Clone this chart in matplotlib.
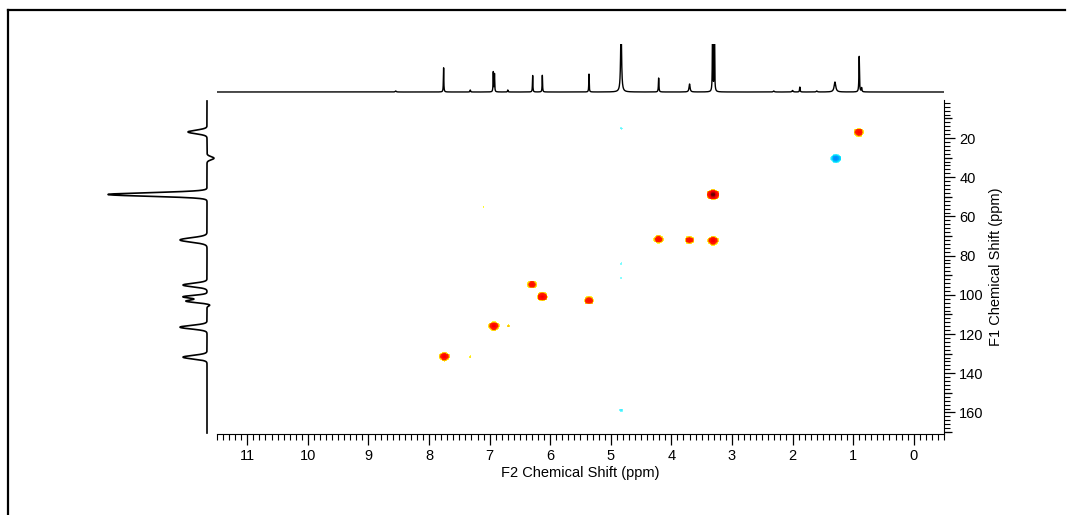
"""HSQC-style 2D NMR map with 1H projection on top and 13C projection on the left."""
import numpy as np
import matplotlib
matplotlib.use("Agg")
import matplotlib.pyplot as plt
from matplotlib.colors import LinearSegmentedColormap
from matplotlib.lines import Line2D
from matplotlib.ticker import MultipleLocator, FixedLocator, NullFormatter

plt.rcParams["font.family"] = ["Liberation Sans Narrow", "Liberation Sans", "DejaVu Sans"]
plt.rcParams["font.size"] = 10.5

# --- cross peaks: F2 (1H ppm), F1 (13C ppm), relative amplitude (neg = blue)
PK_F2 = [0.90, 1.28, 3.31, 4.21, 3.70, 3.31, 6.30, 6.13, 5.36, 6.93, 6.69,
         7.75, 7.32, 7.10, 4.83, 4.83, 4.83, 4.83, 6.30, 5.36]
PK_F1 = [16.9, 30.3, 48.8, 71.6, 72.0, 72.3, 94.8, 101.0, 103.0, 116.0, 116.0,
         131.6, 131.8, 55.0, 15.0, 84.0, 91.5, 159.0, 96.8, 104.8]
PK_AMP = [1.1, -1.4, 4.5, 1.0, 0.9, 1.6, 1.0, 1.5, 1.0, 1.5, 0.22,
          1.4, 0.16, 0.14, -0.16, -0.13, -0.12, -0.2, -0.2, -0.18]

# --- 1H projection (top): shift, height, half width
H_PPM = [8.55, 7.76, 7.32, 6.94, 6.92, 6.70, 6.29, 6.13, 5.36, 4.83, 4.21,
         3.70, 3.32, 3.29, 2.31, 2.00, 1.88, 1.60, 1.30, 0.90, 0.86]
H_HT = [1, 25, 2, 20, 18, 2, 17, 17, 18, 70, 14,
        8, 80, 80, 1, 1.5, 5, 1, 10, 36, 4]
H_W = [0.01, 0.004, 0.005, 0.004, 0.004, 0.005, 0.004, 0.004, 0.004, 0.009, 0.005,
       0.01, 0.004, 0.004, 0.01, 0.01, 0.005, 0.01, 0.016, 0.005, 0.006]

# --- 13C projection (left): shift, height (neg = points right), sigma
C_PPM = [16.9, 30.3, 48.8, 72.0, 95.0, 101.0, 103.2, 105.2, 116.5, 131.8]
C_HT = [19, -7, 99, 27, 24, 24, 21, -3, 27, 24]
C_W = [0.9, 0.8, 0.9, 1.1, 0.9, 0.7, 0.7, 0.5, 0.9, 0.9]

XLIM = (11.5, -0.5)
YLIM = (171.0, 0.6)


def lorentz(grid, pos, hts, ws):
    out = np.zeros_like(grid)
    for p, h, w in zip(pos, hts, ws):
        out += h * w**2 / ((grid - p) ** 2 + w**2)
    return out


def gauss(grid, pos, hts, ws):
    out = np.zeros_like(grid)
    for p, h, w in zip(pos, hts, ws):
        out += h * np.exp(-((grid - p) ** 2) / (2 * w**2))
    return out


W, H = 1074, 515
fig = plt.figure(figsize=(W / 100, H / 100), dpi=100)


def px_axes(x0, y0, x1, y1):
    return fig.add_axes([x0 / W, 1 - y1 / H, (x1 - x0) / W, (y1 - y0) / H])


# outer frame (top + left only)
fig.add_artist(Line2D([8 / W, 1065 / W], [1 - 10 / H, 1 - 10 / H], color="black", lw=1.6))
fig.add_artist(Line2D([8 / W, 8 / W], [1 - 10 / H, 0], color="black", lw=1.6))

# ---------------- main 2D panel
ax = px_axes(217, 100, 944, 434)
gx = np.linspace(XLIM[0], XLIM[1], 900)
gy = np.linspace(YLIM[1], YLIM[0], 420)
X, Y = np.meshgrid(gx, gy)
Z = np.zeros_like(X)
for f2, f1, a in zip(PK_F2, PK_F1, PK_AMP):
    sx = 0.04 if abs(a) > 0.5 else 0.024
    sy = 1.05 if abs(a) > 0.5 else 0.7
    Z += a * np.exp(-((X - f2) ** 2) / (2 * sx**2) - ((Y - f1) ** 2) / (2 * sy**2))

thr = 0.1
pos_cmap = LinearSegmentedColormap.from_list(
    "pos", [(0.0, "#ffff30"), (0.03, "#ffb000"), (0.07, "#ff2000"),
            (0.3, "#ff0000"), (0.55, "#d00000"), (1.0, "#6a0000")])
neg_cmap = LinearSegmentedColormap.from_list(
    "neg", [(0.0, "#90ffff"), (0.15, "#00e0ff"), (0.5, "#00a8ff"), (1.0, "#0090ff")])
Zp = np.ma.masked_less(Z, thr)
Zn = np.ma.masked_greater(Z, -thr)
ext = [XLIM[0], XLIM[1], YLIM[1], YLIM[0]]
ax.imshow(Zp, cmap=pos_cmap, vmin=thr, vmax=4.0, extent=ext, origin="lower",
          aspect="auto", interpolation="nearest")
ax.imshow(-Zn, cmap=neg_cmap, vmin=thr, vmax=1.2, extent=ext, origin="lower",
          aspect="auto", interpolation="nearest")
ax.set_xlim(*XLIM)
ax.set_ylim(*YLIM)

for s in ("top", "left"):
    ax.spines[s].set_visible(False)
ax.yaxis.tick_right()
ax.yaxis.set_label_position("right")
ax.xaxis.set_major_locator(MultipleLocator(1))
ax.xaxis.set_minor_locator(MultipleLocator(0.1))
ax.yaxis.set_major_locator(MultipleLocator(20))
ax.yaxis.set_minor_locator(MultipleLocator(2))
ax.tick_params(axis="both", which="major", length=8, width=0.9, direction="out", pad=3)
ax.tick_params(axis="both", which="minor", length=4, width=0.8, direction="out")
ax.tick_params(axis="y", which="both", left=False, right=True)
ax.set_xlabel("F2 Chemical Shift (ppm)", labelpad=2)
ax.set_ylabel("F1 Chemical Shift (ppm)", rotation=90, labelpad=4)
sec = ax.secondary_yaxis("right")
sec.yaxis.set_major_locator(FixedLocator(np.arange(10, 171, 20)))
sec.yaxis.set_major_formatter(NullFormatter())
sec.tick_params(length=6, width=0.9)
sec.spines["right"].set_visible(False)

# ---------------- top 1H projection
axt = px_axes(217, 44, 944, 95)
hx = np.linspace(XLIM[0] + 0.17, XLIM[1] - 0.04, 8000)
axt.plot(hx, lorentz(hx, H_PPM, H_HT, H_W), color="black", lw=1.0)
axt.set_xlim(*XLIM)
axt.set_ylim(-3, 48)
axt.axis("off")

# ---------------- left 13C projection
axl = px_axes(100, 100, 220, 434)
cy = np.linspace(YLIM[1] + 0.5, YLIM[0] - 0.5, 3000)
axl.plot(gauss(cy, C_PPM, C_HT, C_W), cy, color="black", lw=1.2)
axl.set_xlim(107, -13)
axl.set_ylim(*YLIM)
axl.axis("off")

fig.savefig("out.png", dpi=100)
